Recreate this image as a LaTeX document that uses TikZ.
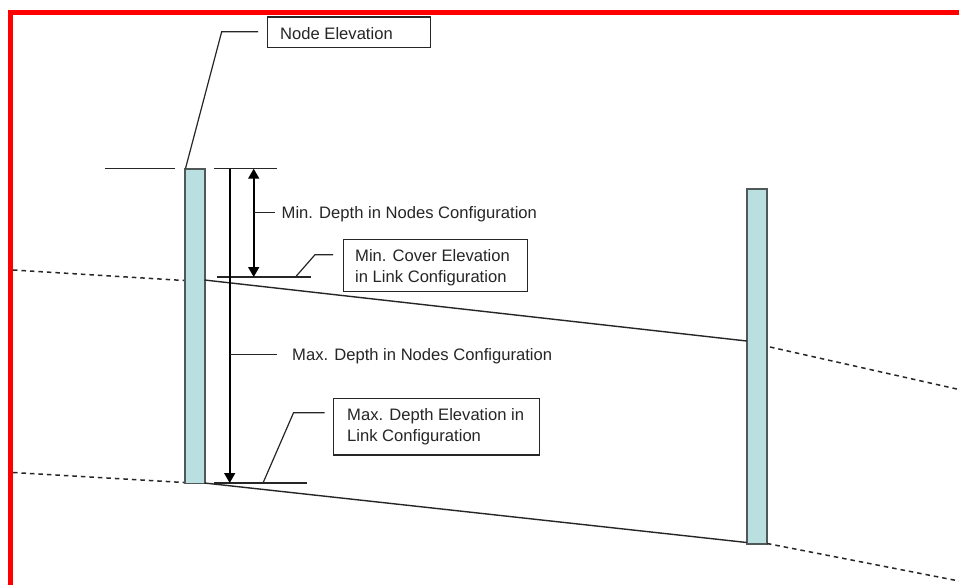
\documentclass[tikz,border=0pt]{standalone}
\usepackage{fontspec}
\setmainfont{Liberation Sans}
\usetikzlibrary{arrows.meta}
\definecolor{colfill}{HTML}{B9DFE1}
\definecolor{colline}{HTML}{505858}
\definecolor{txt}{HTML}{262626}
\tikzset{
  lbl/.style={font=\fontsize{16.6}{20.7}\selectfont,text=txt,inner sep=0pt,align=left},
  lblbox/.style={draw=black!85,line width=1.3pt,fill=white,minimum height=0pt,inner sep=0pt},
  manhole/.style={draw=colline,fill=colfill,line width=1.4pt},
  pipe/.style={draw=black!85,line width=1.4pt},
  ext/.style={draw=black!85,line width=1.5pt,dash pattern=on 4.5pt off 4pt},
  guide/.style={draw=black!85,line width=1.2pt},
  dim/.style={draw=black,line width=1.6pt},
  tip/.style={-{Triangle[length=10pt,width=11pt]}},
  tips/.style={{Triangle[length=10pt,width=11pt]}-{Triangle[length=10pt,width=11pt]}},
}
\begin{document}
\begin{tikzpicture}[x=1pt,y=-1pt]
\useasboundingbox (0,0) rectangle (959,584);
\clip (0,0) rectangle (959,584);
\fill[white] (0,0) rectangle (959,584);
% frame
\coordinate (fb) at (10.5,590); \coordinate (ftl) at (10.5,12.5); \coordinate (fr) at (965,12.5);
\draw[red,line width=5pt] (fb) -- (ftl) -- (fr);
% columns
\node[manhole,minimum width=20pt,minimum height=314.5pt,inner sep=0pt,anchor=north west] (colA) at (184.2,168.3) {};
\node[manhole,minimum width=20pt,minimum height=355pt,inner sep=0pt,anchor=north west] (colB) at (746.4,188.2) {};
% pipes
\coordinate (a1) at (204.5,280); \coordinate (b1) at (746.7,341);
\coordinate (a2) at (204.5,483); \coordinate (b2) at (746.7,542.5);
\draw[pipe] (a1) -- (b1);
\draw[pipe] (a2) -- (b2);
% dashed extensions
\coordinate (l1) at (13,270); \coordinate (l1e) at (184,280.5);
\coordinate (l2) at (13,472.5); \coordinate (l2e) at (184,482.5);
\coordinate (r1) at (770,347); \coordinate (r1e) at (959,389.5);
\coordinate (r2) at (767,543.5); \coordinate (r2e) at (959,581);
\draw[ext] (l1) -- (l1e);
\draw[ext] (l2) -- (l2e);
\draw[ext] (r1) -- (r1e);
\draw[ext] (r2) -- (r2e);
% reference lines
\coordinate (t1) at (105,168.7); \coordinate (t1e) at (175,168.7);
\coordinate (t2) at (214,168.7); \coordinate (t2e) at (276.5,168.7);
\coordinate (m1) at (217,277); \coordinate (m1e) at (310.5,277);
\coordinate (d1) at (214,483); \coordinate (d1e) at (307,483);
\draw[guide] (t1) -- (t1e);
\draw[guide] (t2) -- (t2e);
\draw[guide] (m1) -- (m1e);
\draw[guide] (d1) -- (d1e);
% dimension arrows
\coordinate (lt) at (229.7,168.7); \coordinate (lb) at (229.7,483);
\coordinate (st) at (253.7,168.7); \coordinate (sb) at (253.7,277);
\draw[dim,tip] (lt) -- (lb);
\draw[dim,tips] (st) -- (sb);
% labels
\node[lblbox,minimum width=162.5pt,minimum height=30.5pt,anchor=north west] (ne) at (267,16.3) {};
\node[lbl,anchor=west] (netxt) at (280,33.5) {Node Elevation};
\node[lbl,anchor=west] (mindepth) at (281.5,214.5) {Min. Depth in Nodes Configuration};
\node[lblbox,minimum width=184.5pt,minimum height=51.5pt,anchor=north west] (mc) at (342.5,239) {};
\node[lbl,anchor=north west] (mctxt) at (355,249.5) {Min. Cover Elevation\\in Link Configuration};
\node[lbl,anchor=west] (maxdepth) at (292,356) {Max. Depth in Nodes Configuration};
\node[lblbox,minimum width=205.5pt,minimum height=56.5pt,anchor=north west] (md) at (333,397.7) {};
\node[lbl,anchor=north west] (mdtxt) at (347,408.5) {Max. Depth Elevation in\\Link Configuration};
% leaders
\coordinate (q1) at (185.5,168.5); \coordinate (q2) at (221.7,31.7); \coordinate (q3) at (258,31.7);
\draw[guide] (q1) -- (q2) -- (q3);
\coordinate (u1) at (253.7,212.7); \coordinate (u2) at (275,212.7);
\draw[guide] (u1) -- (u2);
\coordinate (v1) at (295.5,277); \coordinate (v2) at (315,254.7); \coordinate (v3) at (333,254.7);
\draw[guide] (v1) -- (v2) -- (v3);
\coordinate (w1) at (230,354.5); \coordinate (w2) at (277,354.5);
\draw[guide] (w1) -- (w2);
\coordinate (z1) at (263,483); \coordinate (z2) at (293.5,412.8); \coordinate (z3) at (324.5,412.8);
\draw[guide] (z1) -- (z2) -- (z3);
\end{tikzpicture}
\end{document}
